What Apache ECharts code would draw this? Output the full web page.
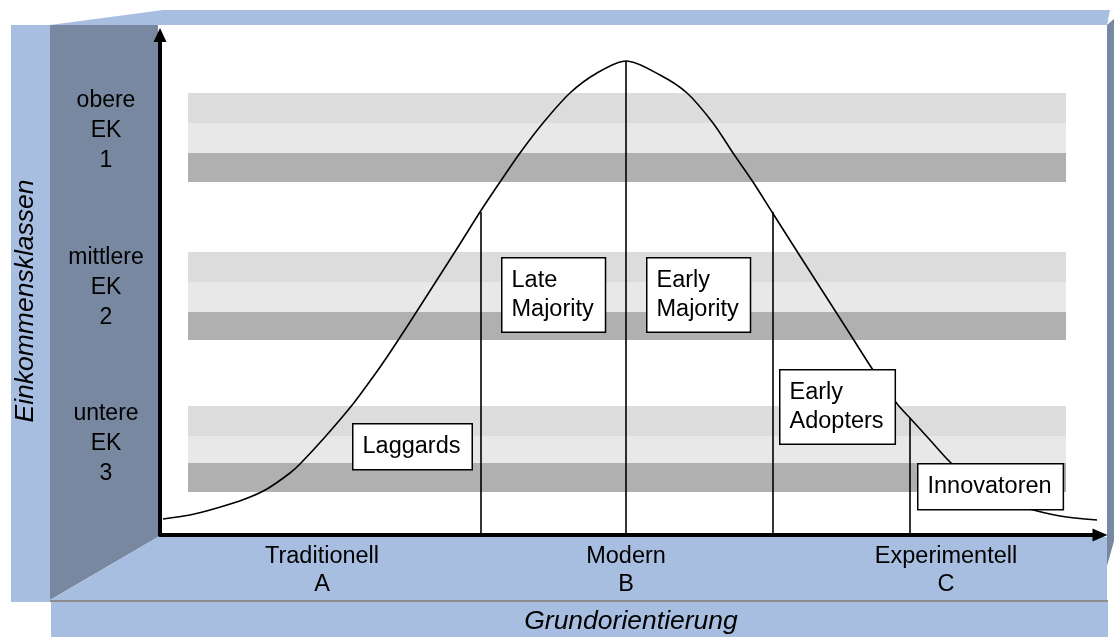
<!DOCTYPE html>
<html>
<head>
<meta charset="utf-8">
<script src="https://cdn.jsdelivr.net/npm/echarts@6/dist/echarts.min.js"></script>
<style>
  html, body { margin: 0; padding: 0; background: #fff; }
  #chart { width: 1114px; height: 637px; }
</style>
</head>
<body>
<div id="chart"></div>
<script>
  // Diagrammeinheiten: x 0..940 (Grundorientierung), y 0..500 (Einkommensklassen)
  const orientLabels = ['Traditionell\nA', 'Modern\nB', 'Experimentell\nC'];
  const orientTicks = [162, 466, 786];

  const classLabels = ['obere\nEK\n1', 'mittlere\nEK\n2', 'untere\nEK\n3'];
  const classTicks = [404, 247, 91];
  // je Klasse drei Streifen (Grenzen von oben nach unten)
  const classStripes = [
    [442, 412, 382, 353],
    [283, 253, 223, 195],
    [129, 99, 72, 43]
  ];
  const stripeRange = [28, 906];

  // Glockenkurve
  const curveX = [3, 30, 57, 85, 107, 130, 140, 165, 193, 213, 227, 250, 275, 298, 320, 340, 360, 383, 410, 437, 466,
    500, 527, 553, 573, 593, 612, 640, 665, 690, 713, 738, 750, 770, 790, 815, 840, 863, 900, 937];
  const curveY = [16, 20, 27, 36, 46, 62, 71, 98, 131, 158, 178, 213, 252, 288, 323, 353, 382, 412, 442, 462, 474,
    460, 442, 412, 382, 353, 323, 279, 240, 201, 165, 130, 117, 95, 73, 51, 37, 28, 19, 15];

  // senkrechte Trennlinien
  const dropX = [321, 466, 613, 750];
  const dropTop = [323, 474, 323, 117];

  // Adoptergruppen (linke obere Ecke der Kästen)
  const groupNames = ['Laggards', 'Late\nMajority', 'Early\nMajority', 'Early\nAdopters', 'Innovatoren'];
  const groupX = [194, 343, 488, 621, 759];
  const groupY = [110, 276, 276, 164, 70];

  const lightBlue = '#a8bee0';
  const slate = '#7888a0';
  const stripeColors = ['#dcdcdc', '#e8e8e8', '#b0b0b0'];
  const font = '"Liberation Sans", Arial, sans-serif';

  const bands = [];
  classStripes.forEach(edges => {
    for (let s = 0; s < 3; s++) {
      bands.push([
        { coord: [stripeRange[0], edges[s]], itemStyle: { color: stripeColors[s], opacity: 1 } },
        { coord: [stripeRange[1], edges[s + 1]] }
      ]);
    }
  });

  const drops = dropX.map((x, i) => [{ coord: [x, 0] }, { coord: [x, dropTop[i]] }]);

  let chart = echarts.init(document.getElementById('chart'));

  chart.setOption({
    animation: false,
    backgroundColor: '#fff',
    textStyle: { fontFamily: font },
    grid: { left: 160, right: 14, top: 35, bottom: 102 },
    xAxis: {
      type: 'value',
      min: 0,
      max: 940,
      splitLine: { show: false },
      axisTick: { show: false },
      axisLine: {
        lineStyle: { color: '#000', width: 4 },
        symbol: ['none', 'triangle'],
        symbolSize: [13, 15]
      },
      axisLabel: {
        customValues: orientTicks,
        formatter: function (v) {
          return orientLabels[orientTicks.indexOf(v)] || '';
        },
        color: '#000',
        fontSize: 23.5,
        lineHeight: 28,
        margin: 8,
        fontFamily: font
      }
    },
    yAxis: {
      type: 'value',
      min: 0,
      max: 500,
      splitLine: { show: false },
      axisTick: { show: false },
      axisLine: {
        lineStyle: { color: '#000', width: 4 },
        symbol: ['none', 'triangle'],
        symbolSize: [13, 14]
      },
      axisLabel: {
        customValues: classTicks,
        formatter: function (v) {
          return classLabels[classTicks.indexOf(v)] || '';
        },
        align: 'center',
        verticalAlign: 'middle',
        color: '#000',
        fontSize: 23,
        lineHeight: 30,
        margin: 54,
        fontFamily: font
      }
    },
    graphic: [
      { type: 'rect', z: -10, shape: { x: 11, y: 25, width: 39, height: 577 }, style: { fill: lightBlue } },
      { type: 'polygon', z: -10, shape: { points: [[50, 25], [163, 10], [1110, 10], [1107, 25]] }, style: { fill: lightBlue } },
      { type: 'polygon', z: -10, shape: { points: [[50, 25], [158, 25], [158, 537], [50, 600]] }, style: { fill: slate } },
      { type: 'polygon', z: -10, shape: { points: [[50, 600], [158, 537], [1107, 537], [1107, 600]] }, style: { fill: lightBlue } },
      { type: 'polygon', z: -10, shape: { points: [[1107, 25], [1114, 19], [1114, 541], [1107, 566]] }, style: { fill: slate } },
      { type: 'rect', z: -10, shape: { x: 51, y: 602, width: 1057, height: 35 }, style: { fill: lightBlue } },
      { type: 'line', z: -9, shape: { x1: 50, y1: 601, x2: 1108, y2: 601 }, style: { stroke: '#8c8c8c', lineWidth: 2 } },
      {
        type: 'text', z: -5, x: 631, y: 622,
        style: {
          text: 'Grundorientierung', fill: '#000', font: 'italic 26.5px ' + font,
          textAlign: 'center', textVerticalAlign: 'middle'
        }
      },
      {
        type: 'text', z: -5, x: 26, y: 301, rotation: Math.PI / 2,
        style: {
          text: 'Einkommensklassen', fill: '#000', font: 'italic 26.5px ' + font,
          textAlign: 'center', textVerticalAlign: 'middle'
        }
      }
    ],
    series: [
      {
        name: 'Einkommensklassen',
        type: 'line',
        z: 1,
        data: [],
        silent: true,
        markArea: { silent: true, data: bands }
      },
      {
        name: 'Adoptionskurve',
        type: 'line',
        z: 2,
        smooth: 0.3,
        symbol: 'none',
        silent: true,
        lineStyle: { color: '#000', width: 1.6 },
        data: curveX.map((x, i) => [x, curveY[i]]),
        markLine: {
          silent: true,
          symbol: 'none',
          label: { show: false },
          lineStyle: { color: '#000', width: 1.6, type: 'solid' },
          data: drops
        }
      },
      {
        name: 'Adoptergruppen',
        type: 'scatter',
        z: 5,
        symbolSize: 1,
        silent: true,
        itemStyle: { color: 'rgba(0,0,0,0)', opacity: 1 },
        data: groupNames.map((n, i) => ({ name: n, value: [groupX[i], groupY[i]] })),
        label: {
          show: true,
          position: [0, 0],
          align: 'left',
          verticalAlign: 'top',
          formatter: '{b}',
          color: '#000',
          fontSize: 23.5,
          lineHeight: 28.5,
          fontFamily: font,
          backgroundColor: '#fff',
          borderColor: '#000',
          borderWidth: 1.5,
          padding: [8, 11, 8, 9]
        }
      }
    ]
  });
</script>
</body>
</html>
